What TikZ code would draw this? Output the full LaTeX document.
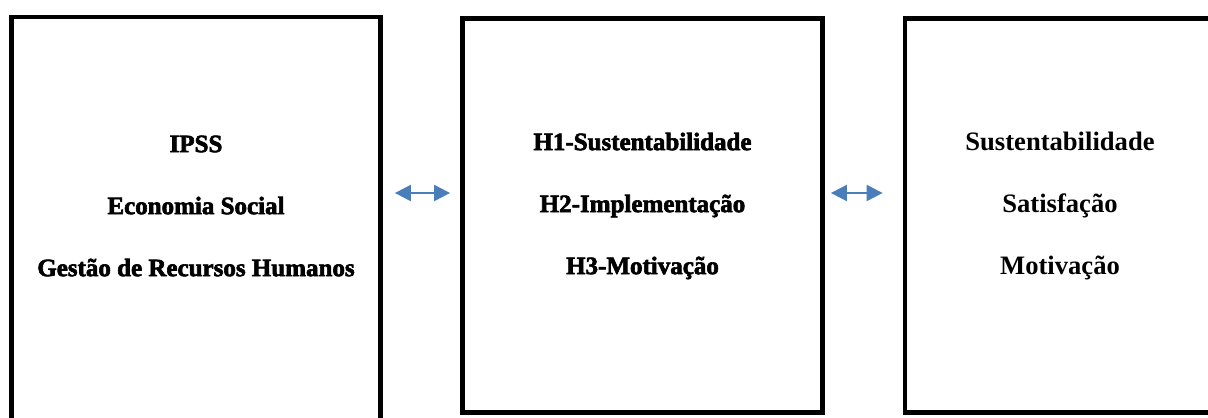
\documentclass[tikz,border=0pt]{standalone}
\usepackage{fontspec}
\setmainfont{Liberation Serif}
\newfontfamily\heavyserif[FakeBold=2.5]{Liberation Serif Bold}
\usetikzlibrary{positioning,arrows.meta}
\definecolor{linkblue}{HTML}{4A7EBB}

\begin{document}
\begin{tikzpicture}[x=0.5pt,y=-0.5pt,
    panel/.style={draw,line width=2.4pt,inner sep=0pt},
    txt/.style={align=center,font=\fontsize{13.3}{31}\selectfont\bfseries},
    heavytxt/.style={align=center,font=\fontsize{12.5}{31}\selectfont\heavyserif},
    link/.style={{Triangle[length=8pt,width=8pt]}-{Triangle[length=8pt,width=8pt]},draw=linkblue,line width=1pt}]
  \useasboundingbox[fill=white] (0,0) rectangle (1208,417);
  % the three panels
  \node[panel,minimum width=184.5pt,minimum height=211.5pt] (ctx) at (196,228.5) {};
  \node[panel,minimum width=180pt,minimum height=197pt] (hyp) at (642.5,215.5) {};
  \node[panel,minimum width=155pt,minimum height=197pt] (var) at (1060,215.5) {};
  % texts
  \node[heavytxt] (ctxtext) at (ctx.north |- 0,206) {IPSS\\Economia Social\\Gestão de Recursos Humanos};
  \node[heavytxt] (hyptext) at (hyp.north |- 0,206) {H1-Sustentabilidade\\H2-Implementação\\H3-Motivação};
  \node[txt] (vartext) at (var.north |- 0,206) {Sustentabilidade\\Satisfação\\Motivação};
  % links
  \draw[link,shorten <=6pt,shorten >=5pt] (ctx.east |- 0,193) -- (hyp.west |- 0,193);
  \draw[link,shorten <=3pt,shorten >=10pt] (hyp.east |- 0,193) -- (var.west |- 0,193);
\end{tikzpicture}
\end{document}
